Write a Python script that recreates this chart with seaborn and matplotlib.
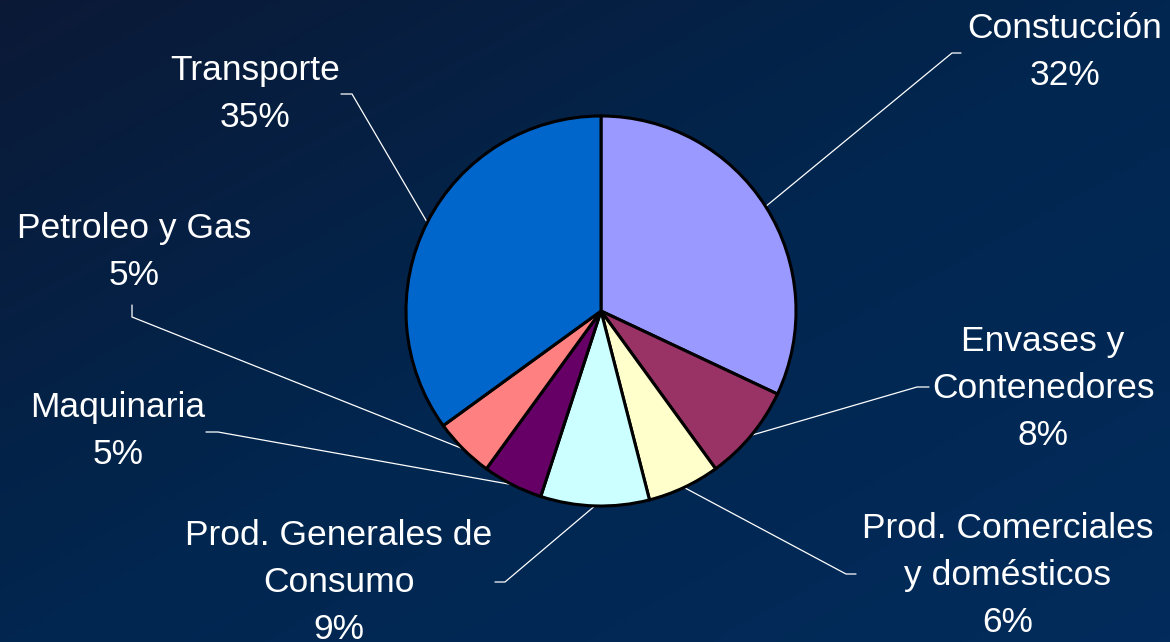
import numpy as np
import matplotlib
matplotlib.use("Agg")
import matplotlib.pyplot as plt
import seaborn as sns
from matplotlib.colors import LinearSegmentedColormap

# data
sectores = ["Constucción", "Envases y\nContenedores", "Prod. Comerciales\ny domésticos",
            "Prod. Generales de\nConsumo", "Maquinaria", "Petroleo y Gas", "Transporte"]
porcentajes = [32, 8, 6, 9, 5, 5, 35]
colores = ["#9999FF", "#993366", "#FFFFCC", "#CCFFFF", "#660066", "#FF8080", "#0066CC"]

sns.set_theme(style="white")
plt.rcParams["font.family"] = ["Liberation Sans", "DejaVu Sans"]

W, H = 1170, 642
fig = plt.figure(figsize=(W / 100, H / 100), dpi=100)
ax = fig.add_axes([0, 0, 1, 1])

# background gradient (dark top-left corner -> navy elsewhere)
yy, xx = np.mgrid[0:1:200j, 0:1:300j]
grad = np.clip(0.5 * xx + 0.5 * yy, 0, 1)
cmap = LinearSegmentedColormap.from_list(
    "bg", [(0, "#0b1936"), (0.5, "#01264f"), (1, "#032c5c")])
ax.imshow(grad, extent=[0, W, 0, H], cmap=cmap, aspect="auto", zorder=0, origin="upper")

cx, cy, r = 601, H - 311, 195
wedges, _ = ax.pie(porcentajes, colors=colores, startangle=90, counterclock=False,
                   center=(cx, cy), radius=r, frame=True,
                   wedgeprops=dict(edgecolor="black", linewidth=2.2))
for w in wedges:
    w.set_zorder(3)
ax.set_xlim(0, W)
ax.set_ylim(0, H)
ax.set_aspect("equal")
ax.axis("off")

# label layout: (text x centre, first baseline from top, elbow start, elbow end)
layout = [
    (1065, 38, (961, 53), (952, 53)),
    (1043, 351, (929, 387), (917, 387)),
    (1008, 538, (856, 574), (846, 574)),
    (339, 545, (495, 582), (505, 582)),
    (118, 417, (206, 432), (218, 432)),
    (134, 238, (132, 305), (132, 317)),
    (255, 80, (341, 94), (352, 94)),
]

for w, nombre, pct, (tx, tb, p0, p1) in zip(wedges, sectores, porcentajes, layout):
    lineas = nombre.split("\n") + [f"{pct}%"]
    for i, ln in enumerate(lineas):
        ax.text(tx, H - (tb + i * 47), ln, ha="center", va="baseline",
                color="white", fontsize=25.5, zorder=5)
    ang = np.deg2rad((w.theta1 + w.theta2) / 2)
    ex, ey = cx + r * np.cos(ang), cy + r * np.sin(ang)
    ax.plot([p0[0], p1[0], ex], [H - p0[1], H - p1[1], ey], color="white",
            lw=0.9, zorder=2, solid_joinstyle="miter")

fig.savefig("out.png", dpi=100)
